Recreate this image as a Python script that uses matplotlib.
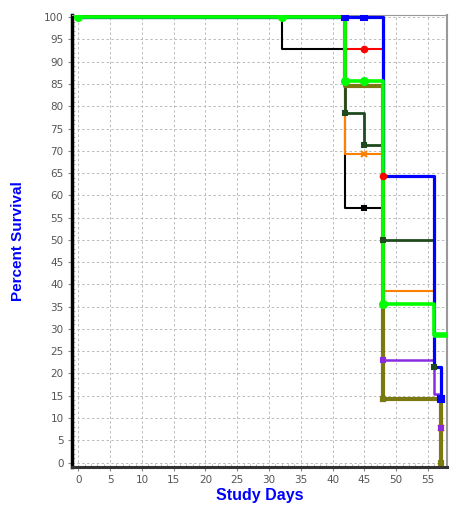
import matplotlib
matplotlib.use("Agg")
import matplotlib.pyplot as plt
from matplotlib.ticker import MultipleLocator

# ---- data ----
black_t = [0, 32, 42, 48]
black_s = [100, 92.86, 57.1, 14.3]
black_end = 56.5
black_cens_t = [45, 48]
black_cens_s = [57.1, 14.3]

red_t = [0, 42, 48]
red_s = [100, 92.86, 85.7]
red_end = 48
red_cens_t = [45, 48]
red_cens_s = [92.86, 64.3]

orange_t = [0, 42, 48]
orange_s = [100, 69.2, 38.5]
orange_end = 56
orange_cens_t = [45, 57]
orange_cens_s = [69.2, 7.7]

dkgreen_t = [0, 42, 45, 48, 56]
dkgreen_s = [100, 78.6, 71.4, 50.0, 21.4]
dkgreen_end = 56
dkgreen_cens_t = [42, 45, 48, 56]
dkgreen_cens_s = [78.6, 71.4, 50.0, 21.4]

purple_t = [0, 48, 56, 57]
purple_s = [100, 23.1, 15.4, 7.7]
purple_end = 57
purple_cens_t = [0, 32, 45, 48, 57]
purple_cens_s = [100, 100, 100, 23.1, 7.7]

olive_t = [0, 42, 48, 57]
olive_s = [100, 84.6, 14.3, 0]
olive_end = 57
olive_cens_t = [48, 57]
olive_cens_s = [14.3, 0]

blue_t = [0, 48, 56, 57]
blue_s = [100, 64.3, 21.4, 14.3]
blue_end = 57
blue_cens_t = [42, 45, 57]
blue_cens_s = [100, 100, 14.3]

green_t = [0, 42, 48, 56]
green_s = [100, 85.7, 35.7, 28.6]
green_end = 57
green_cens_t = [0, 32, 42, 45, 48]
green_cens_s = [100, 100, 85.7, 85.7, 35.7]

x_ticks = list(range(0, 56, 5))
y_ticks = list(range(0, 101, 5))

series = [
    (black_t, black_s, black_end, black_cens_t, black_cens_s, "black", 1.5, "s", 3),
    (red_t, red_s, red_end, red_cens_t, red_cens_s, "#ff0000", 1.5, "o", 4),
    (orange_t, orange_s, orange_end, orange_cens_t, orange_cens_s, "#ff8000", 1.5, "x", 4),
    (dkgreen_t, dkgreen_s, dkgreen_end, dkgreen_cens_t, dkgreen_cens_s, "#1e4a1e", 2.0, "s", 3.5),
    (purple_t, purple_s, purple_end, purple_cens_t, purple_cens_s, "#8a2be2", 1.8, "s", 3.5),
    (olive_t, olive_s, olive_end, olive_cens_t, olive_cens_s, "#7a7a10", 3.0, "s", 3),
    (blue_t, blue_s, blue_end, blue_cens_t, blue_cens_s, "#0000ff", 2.3, "s", 4),
    (green_t, green_s, green_end, green_cens_t, green_cens_s, "#00ff00", 2.6, "o", 5),
]

fig = plt.figure(figsize=(4.57, 5.05), dpi=100)
ax = fig.add_axes([72 / 457, 1 - 467 / 505, 375 / 457, 452 / 505])

for t, s, end, ct, cs, col, lw, mk, ms in series:
    xs = list(t) + [end]
    ys = list(s) + [s[-1]]
    ax.step(xs, ys, where="post", color=col, lw=lw, solid_capstyle="butt", zorder=3)
    ax.plot(ct, cs, linestyle="none", marker=mk, color=col, markersize=ms,
            markeredgewidth=1.5, zorder=4)

# green final censor drawn as a short horizontal dash
ax.plot([green_end], [green_s[-1]], linestyle="none", marker="_", color="#00ff00",
        markersize=11, markeredgewidth=4, zorder=4)

ax.set_xlim(-1, 58)
ax.set_ylim(-1, 100.5)
ax.set_xticks(x_ticks)
ax.set_yticks(y_ticks)
ax.xaxis.set_minor_locator(MultipleLocator(1))
ax.yaxis.set_minor_locator(MultipleLocator(1))
ax.tick_params(which="major", direction="out", length=3, color="#888888",
               labelsize=7.5, labelcolor="#555555", pad=3)
ax.tick_params(which="minor", direction="in", length=2.5, color="#aaaaaa")
ax.grid(True, which="major", color="#bbbbbb", linestyle=(0, (2.5, 2.5)), lw=0.7, zorder=0)

ax.spines["left"].set_linewidth(2.5)
ax.spines["left"].set_color("black")
ax.spines["bottom"].set_linewidth(2.2)
ax.spines["bottom"].set_color("#333333")
ax.spines["top"].set_color("#999999")
ax.spines["right"].set_color("#999999")
ax.spines["right"].set_linewidth(1.5)

ax.set_xlabel("Study Days", color="#0000ff", fontsize=11.5, fontweight="bold",
              family="Liberation Sans", labelpad=2)
ax.set_ylabel("Percent Survival", color="#0000ff", fontsize=11, fontweight="bold",
              family="Liberation Sans", labelpad=14)

fig.savefig("out.png", dpi=100)
